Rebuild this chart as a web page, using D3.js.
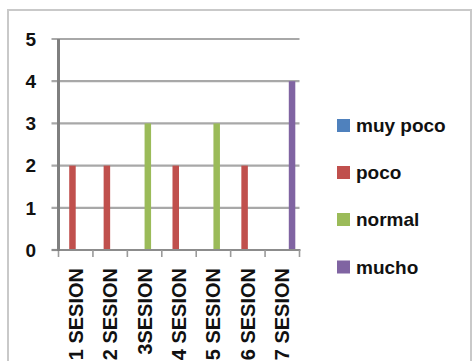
<!DOCTYPE html>
<html>
<head>
<meta charset="utf-8">
<script src="https://cdn.jsdelivr.net/npm/d3@7/dist/d3.min.js"></script>
<style>
  html, body { margin: 0; padding: 0; background: #fff; }
  svg { display: block; }
  text { font-family: "Liberation Sans", Arial, sans-serif; font-weight: bold; fill: #111; }
</style>
</head>
<body>
<svg id="chart" width="472" height="361"></svg>
<script>
const categories = ["1 SESION", "2 SESION", "3SESION", "4 SESION", "5 SESION", "6 SESION", "7 SESION"];
const seriesNames = ["muy poco", "poco", "normal", "mucho"];
const muyPoco = [0, 0, 0, 0, 0, 0, 0];
const poco    = [2, 2, 0, 2, 0, 2, 0];
const normal  = [0, 0, 3, 0, 3, 0, 0];
const mucho   = [0, 0, 0, 0, 0, 0, 4];
const yTicks  = [0, 1, 2, 3, 4, 5];
const colors  = ["#4F81BD", "#C0504D", "#9BBB59", "#8064A2"];

const seriesValues = [muyPoco, poco, normal, mucho];

const svg = d3.select("#chart");

// outer frame
svg.append("rect")
  .attr("x", 8).attr("y", 10)
  .attr("width", 463).attr("height", 360)
  .attr("fill", "#fff")
  .attr("stroke", "#c9c9c9").attr("stroke-width", 2);

const plot = { left: 58.5, right: 299.5, top: 39, bottom: 250 };

const y = d3.scaleLinear().domain([0, 5]).range([plot.bottom, plot.top]);
const x0 = d3.scaleBand().domain(categories).range([plot.left, plot.right]).paddingInner(0).paddingOuter(0);
const x1 = d3.scaleBand().domain(seriesNames).range([0, x0.bandwidth()]).paddingInner(0).paddingOuter(0.645);

// gridlines
svg.append("g").selectAll("line").data(yTicks.filter(t => t > 0)).join("line")
  .attr("x1", plot.left - 7).attr("x2", plot.right)
  .attr("y1", d => y(d)).attr("y2", d => y(d))
  .attr("stroke", "#a8a8a8").attr("stroke-width", 2.2);

// y tick for 0
svg.append("line")
  .attr("x1", plot.left - 7).attr("x2", plot.left)
  .attr("y1", y(0)).attr("y2", y(0))
  .attr("stroke", "#8c8c8c").attr("stroke-width", 2.2);

// bars
const groups = svg.append("g").selectAll("g").data(categories).join("g")
  .attr("transform", d => `translate(${x0(d)},0)`);
groups.selectAll("rect")
  .data((c, i) => seriesNames.map((s, k) => ({ s, k, v: seriesValues[k][i] })))
  .join("rect")
  .attr("x", d => x1(d.s))
  .attr("width", x1.bandwidth())
  .attr("y", d => y(d.v))
  .attr("height", d => y(0) - y(d.v))
  .attr("fill", d => colors[d.k]);

// x axis line
svg.append("line")
  .attr("x1", plot.left - 1).attr("x2", plot.right + 1)
  .attr("y1", y(0)).attr("y2", y(0))
  .attr("stroke", "#8c8c8c").attr("stroke-width", 2.2);

// x ticks at category boundaries
const boundaries = categories.map(c => x0(c)).concat([x0.range()[1]]);
svg.append("g").selectAll("line").data(boundaries).join("line")
  .attr("x1", d => d).attr("x2", d => d)
  .attr("y1", y(0)).attr("y2", y(0) + 7)
  .attr("stroke", "#9a9a9a").attr("stroke-width", 1.6);

// y axis line
svg.append("line")
  .attr("x1", plot.left).attr("x2", plot.left)
  .attr("y1", y(5)).attr("y2", y(0) + 1)
  .attr("stroke", "#7f7f7f").attr("stroke-width", 3);

// y labels
svg.append("g").selectAll("text").data(yTicks).join("text")
  .attr("x", 36).attr("y", d => y(d))
  .attr("dy", "0.36em")
  .attr("text-anchor", "end")
  .attr("font-size", 19)
  .text(d => d);

// x labels
svg.append("g").selectAll("text").data(categories).join("text")
  .attr("transform", d => `translate(${x0(d) + x0.bandwidth() / 2 + 7},268) rotate(-90)`)
  .attr("text-anchor", "end")
  .attr("font-size", 20)
  .text(d => d);

// legend
const legendY = [126, 173, 220, 267.5];
const leg = svg.append("g").selectAll("g").data(seriesNames).join("g")
  .attr("transform", (d, i) => `translate(337,${legendY[i]})`);
leg.append("rect")
  .attr("x", 0).attr("y", -7).attr("width", 13).attr("height", 13)
  .attr("fill", (d, i) => colors[i]);
leg.append("text")
  .attr("x", 19).attr("y", 0).attr("dy", "0.32em")
  .attr("font-size", 19)
  .text(d => d);
</script>
</body>
</html>
